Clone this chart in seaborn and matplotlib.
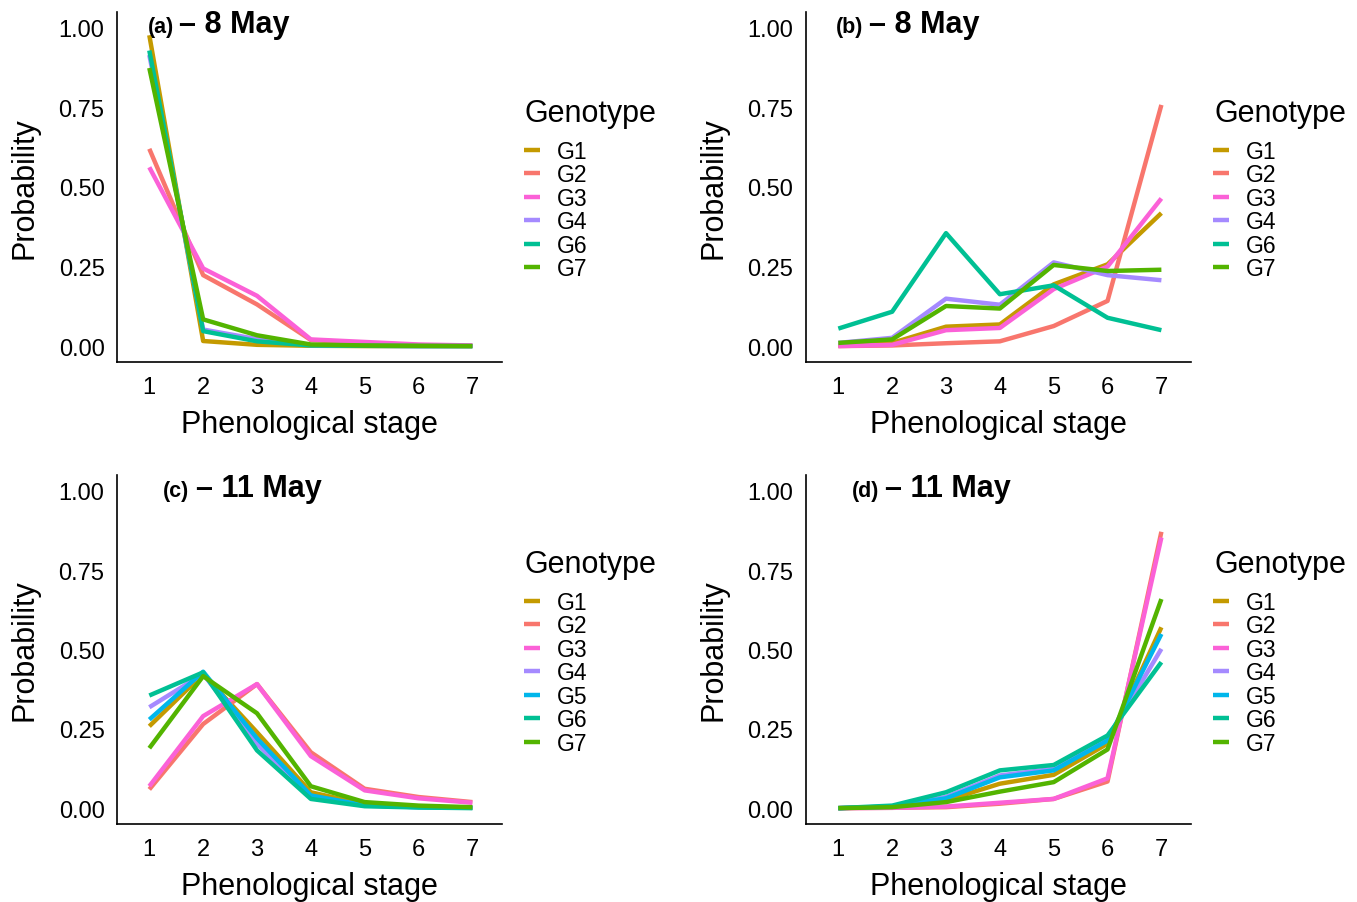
import numpy as np
import pandas as pd
import matplotlib
matplotlib.use('Agg')
import matplotlib.pyplot as plt
import seaborn as sns

sns.set_style('white')
plt.rcParams['font.family'] = ['Liberation Sans', 'DejaVu Sans']
plt.rcParams.update({'text.color': 'black', 'axes.labelcolor': 'black',
                     'xtick.color': 'black', 'ytick.color': 'black'})

# data
stages = [1, 2, 3, 4, 5, 6, 7]

panel_a = {
    'G1': [0.977, 0.016, 0.004, 0.001, 0.0, 0.0, 0.0],
    'G2': [0.620, 0.223, 0.131, 0.019, 0.010, 0.003, 0.001],
    'G3': [0.562, 0.244, 0.158, 0.021, 0.013, 0.005, 0.002],
    'G4': [0.915, 0.052, 0.022, 0.003, 0.001, 0.0, 0.0],
    'G6': [0.929, 0.047, 0.015, 0.002, 0.001, 0.0, 0.0],
    'G7': [0.874, 0.084, 0.034, 0.005, 0.002, 0.001, 0.0],
}
panel_b = {
    'G1': [0.002, 0.010, 0.061, 0.068, 0.194, 0.257, 0.418],
    'G2': [0.0, 0.002, 0.009, 0.015, 0.063, 0.142, 0.758],
    'G3': [0.0, 0.004, 0.050, 0.057, 0.179, 0.250, 0.464],
    'G4': [0.010, 0.026, 0.149, 0.130, 0.263, 0.223, 0.207],
    'G6': [0.055, 0.108, 0.355, 0.163, 0.191, 0.089, 0.050],
    'G7': [0.010, 0.021, 0.126, 0.118, 0.255, 0.236, 0.240],
}
panel_c = {
    'G1': [0.258, 0.423, 0.239, 0.050, 0.012, 0.004, 0.001],
    'G2': [0.059, 0.265, 0.391, 0.176, 0.061, 0.035, 0.019],
    'G3': [0.069, 0.290, 0.391, 0.164, 0.056, 0.031, 0.017],
    'G4': [0.318, 0.423, 0.203, 0.035, 0.008, 0.003, 0.001],
    'G5': [0.279, 0.430, 0.220, 0.040, 0.009, 0.003, 0.001],
    'G6': [0.355, 0.428, 0.182, 0.029, 0.006, 0.002, 0.0],
    'G7': [0.189, 0.416, 0.299, 0.069, 0.019, 0.008, 0.003],
}
panel_d = {
    'G1': [0.0, 0.004, 0.024, 0.077, 0.105, 0.203, 0.570],
    'G2': [0.0, 0.001, 0.003, 0.014, 0.029, 0.084, 0.871],
    'G3': [0.0, 0.001, 0.005, 0.017, 0.029, 0.094, 0.853],
    'G4': [0.0, 0.005, 0.035, 0.103, 0.124, 0.218, 0.502],
    'G5': [0.0, 0.005, 0.031, 0.097, 0.119, 0.213, 0.549],
    'G6': [0.0, 0.008, 0.050, 0.119, 0.136, 0.229, 0.460],
    'G7': [0.0, 0.003, 0.019, 0.052, 0.082, 0.185, 0.659],
}

colors = {'G1': '#C49A00', 'G2': '#F8766D', 'G3': '#FB61D7', 'G4': '#A58AFF',
          'G5': '#00B6EB', 'G6': '#00C094', 'G7': '#53B400'}

W, H = 1357, 903
fig = plt.figure(figsize=(W / 100, H / 100), dpi=100)


def px_axes(left, top, right, bottom):
    return fig.add_axes([left / W, 1 - bottom / H, (right - left) / W, (bottom - top) / H])


def draw(panel, box, tag, date, tag_x, dash_x, base_y, leg_title_y):
    ax = px_axes(*box)
    df = pd.DataFrame([(g, s, p) for g, vals in panel.items() for s, p in zip(stages, vals)],
                      columns=['Genotype', 'stage', 'prob'])
    order = list(panel.keys())
    sns.lineplot(data=df, x='stage', y='prob', hue='Genotype', hue_order=order,
                 palette=colors, lw=3.2, errorbar=None, ax=ax,
                 solid_capstyle='butt', solid_joinstyle='round')
    ax.set_xlim(0.4, 7.55)
    ax.set_ylim(-0.05, 1.05)
    ax.set_xticks(stages)
    ax.set_yticks([0, 0.25, 0.5, 0.75, 1.0])
    ax.set_yticklabels(['0.00', '0.25', '0.50', '0.75', '1.00'])
    ax.tick_params(axis='both', labelsize=17, colors='#333333', labelcolor='black',
                   length=4, width=1, direction='out')
    ax.tick_params(axis='x', pad=6)
    ax.tick_params(axis='y', pad=5)
    for s in ['top', 'right']:
        ax.spines[s].set_visible(False)
    for s in ['left', 'bottom']:
        ax.spines[s].set_color('black')
        ax.spines[s].set_linewidth(1.2)
    ax.set_xlabel('Phenological stage', fontsize=22, labelpad=8)
    ax.set_ylabel('Probability', fontsize=22, labelpad=14)
    ax.grid(False)

    # legend: title as separate text so the gap can match
    lx = box[2] + 22
    fig.text((lx + 1) / W, 1 - leg_title_y / H, 'Genotype', fontsize=22, va='center')
    handles, labels = ax.get_legend_handles_labels()
    ax.legend(handles, labels, loc='upper left',
              bbox_to_anchor=(lx / W, 1 - (leg_title_y + 27) / H),
              bbox_transform=fig.transFigure, frameon=False, fontsize=16.5,
              handlelength=0.7, handletextpad=0.75, labelspacing=0.02,
              borderpad=0, borderaxespad=0)

    fig.text(tag_x / W, 1 - base_y / H, tag, fontsize=15.5, fontweight='bold', va='baseline')
    fig.text(dash_x / W, 1 - base_y / H, '\u2013 ' + date, fontsize=22,
             fontweight='bold', va='baseline')
    return ax


draw(panel_a, (117, 13, 502, 363), '(a)', '8 May', 148, 179, 33, 114)
draw(panel_b, (806, 13, 1191, 363), '(b)', '8 May', 836, 869, 33, 114)
draw(panel_c, (117, 476, 502, 825), '(c)', '11 May', 163, 196, 497, 565)
draw(panel_d, (806, 476, 1191, 825), '(d)', '11 May', 852, 885, 497, 565)

fig.savefig('out.png', dpi=100)
